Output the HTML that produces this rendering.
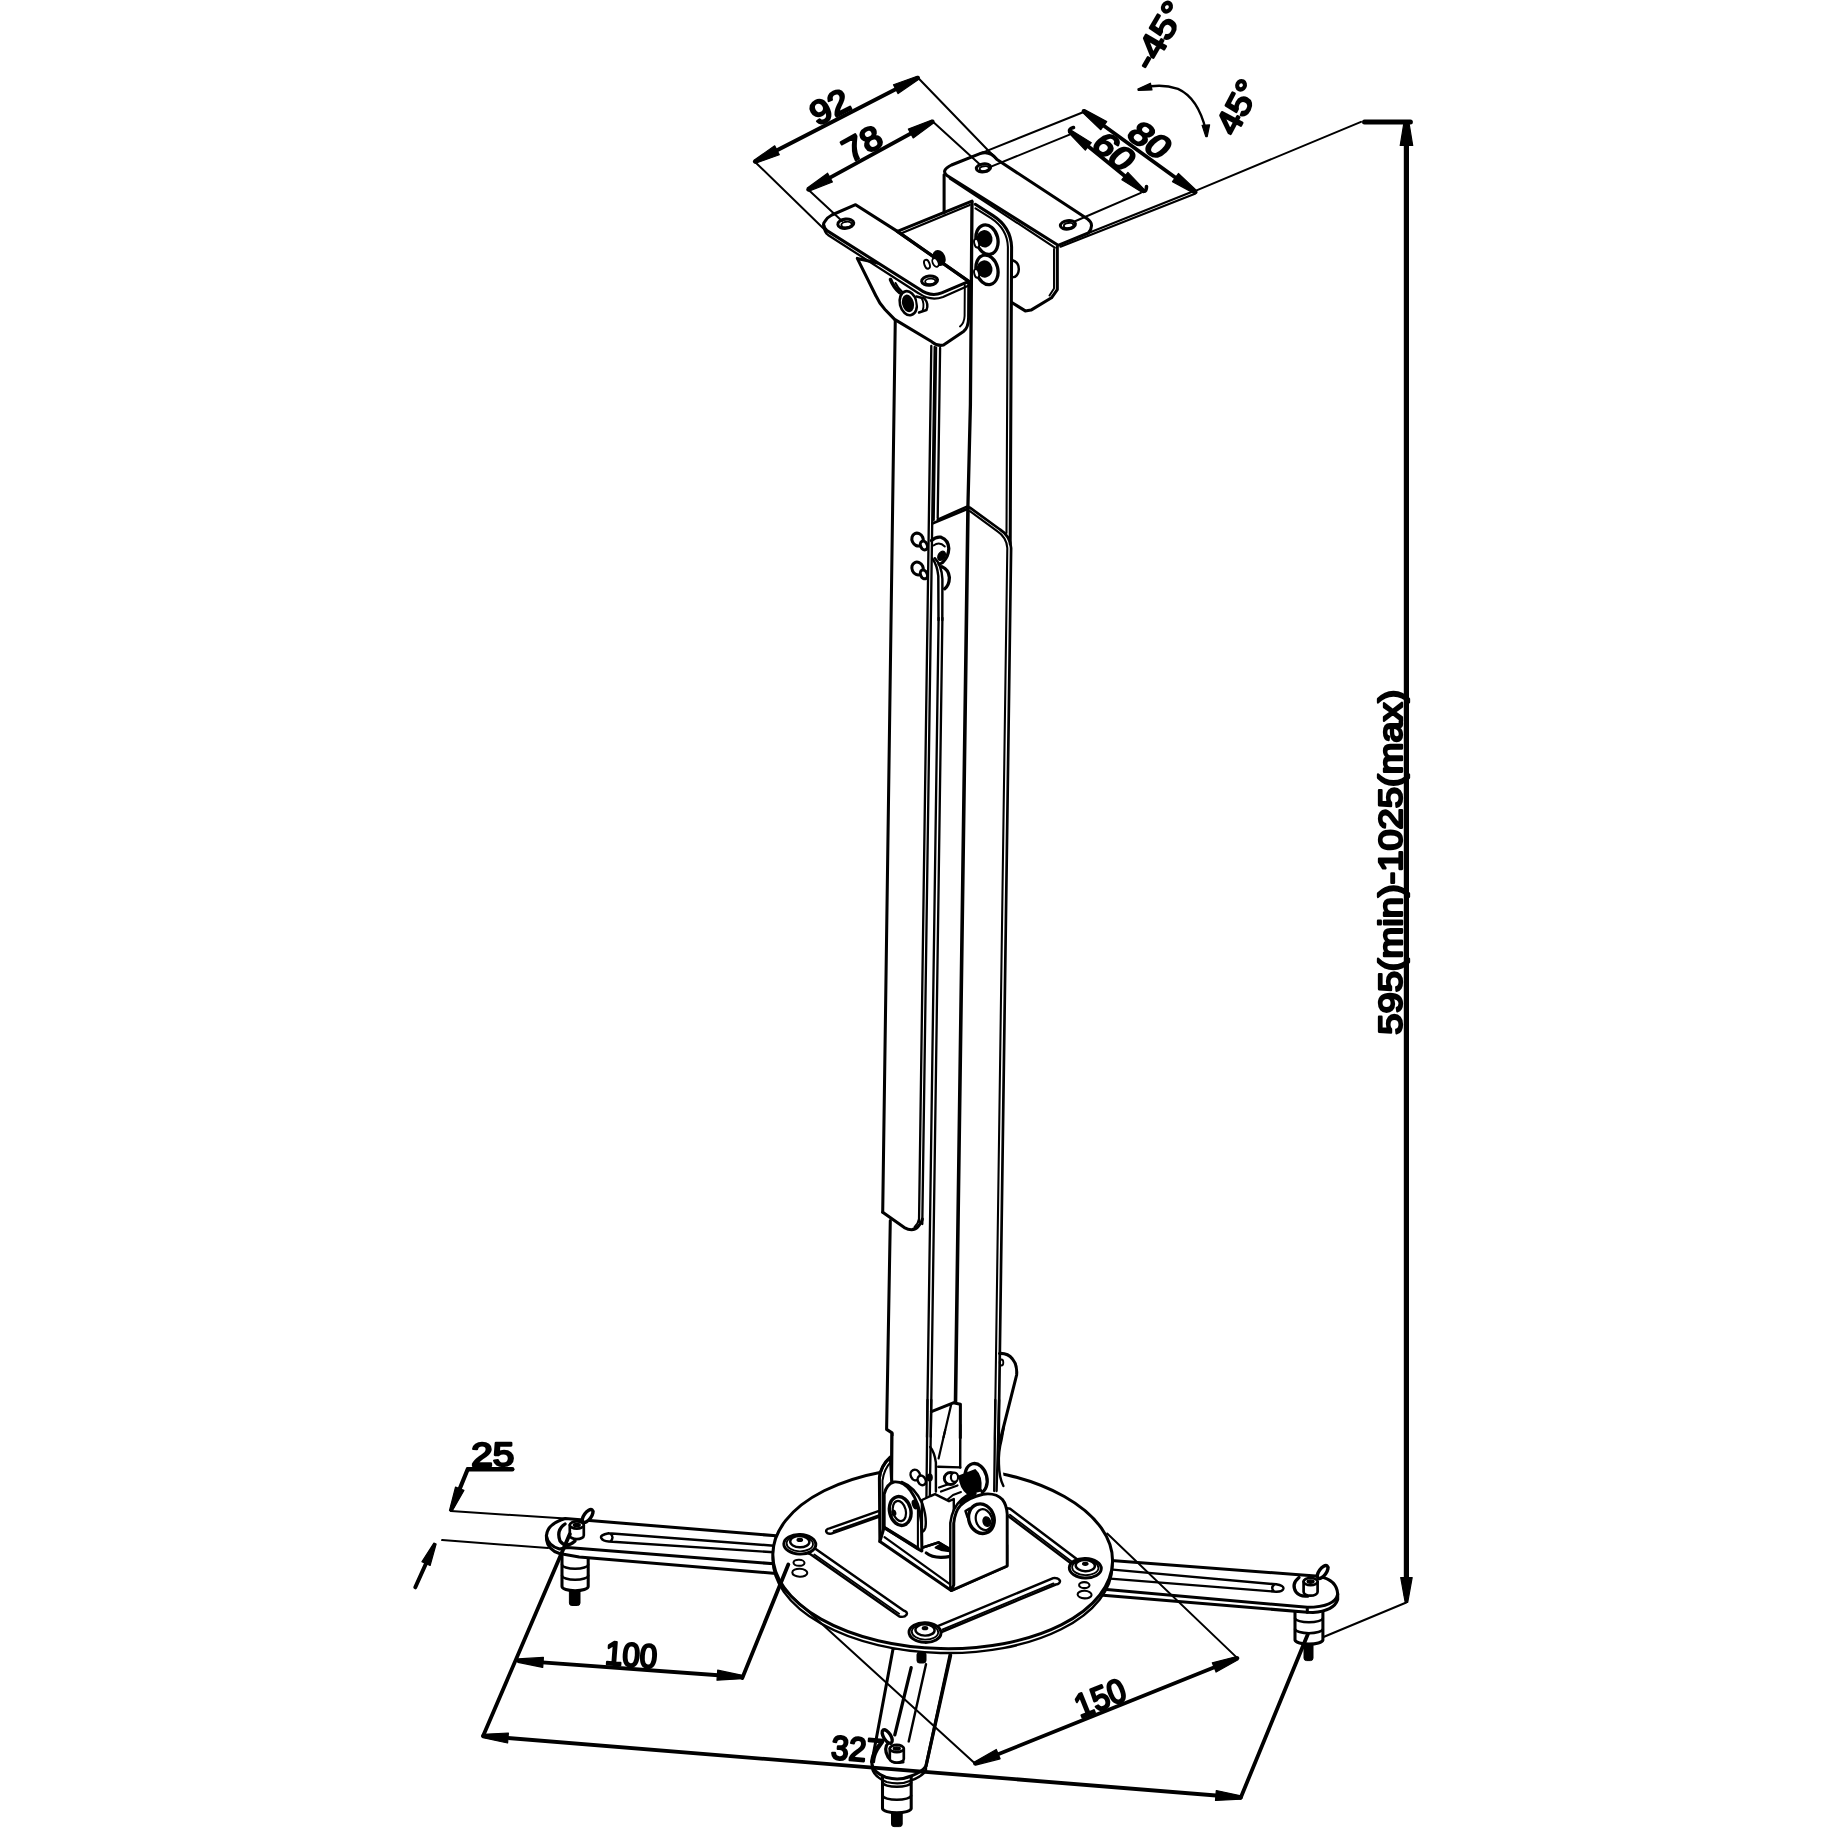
<!DOCTYPE html>
<html lang="en">
<head>
<meta charset="utf-8">
<title>Projector ceiling mount - dimension drawing</title>
<style>
html,body{margin:0;padding:0;background:#fff;}
body{width:1829px;height:1829px;overflow:hidden;}
svg{display:block;will-change:transform;}
svg text{font-family:"Liberation Sans",sans-serif;fill:#000;stroke:#000;}
</style>
</head>
<body>
<svg width="1829" height="1829" viewBox="0 0 1829 1829">
<rect x="0" y="0" width="1829" height="1829" fill="#fff"/>
<g stroke="#000" stroke-linejoin="round" stroke-linecap="round">
<g id="base">
<rect x="569.4" y="1586.6" width="10.6" height="18.9" rx="2.5" fill="#000" stroke-width="1"/>
<path d="M562.0,1552.0 L562.0,1586.6 A13.1,4.2 0 0 0 588.2,1586.6 L588.2,1552.0 Z" stroke-width="3.05" fill="#fff" />
<path d="M562.0,1564.5 A13.1,4.2 0 0 0 588.2,1564.5" stroke-width="2.44" fill="none" />
<path d="M562.0,1575.5 A13.1,4.2 0 0 0 588.2,1575.5" stroke-width="2.44" fill="none" />
<path d="M565.3,1518.5 L776,1535.8 L776,1573.5 L579.2,1557.1 L559.5,1553.5 Q548,1550 546.6,1540 L546.4,1535.8 Q547,1524 565.3,1518.5 Z" stroke-width="3.05" fill="#fff" />
<path d="M546.4,1535.8 Q548,1546 559.5,1549 L567.7,1547.6 L774,1563.8" stroke-width="3.05" fill="none" />
<path d="M608.7,1533.3 L774,1545.7 M608.7,1541.5 L774,1552.3 M608.7,1533.3 Q599.5,1535 601.3,1538.2 Q603,1541.3 608.7,1541.5 M610.5,1533.6 Q614.5,1537.5 610.5,1541.5" stroke-width="2.44" fill="none" />
<path d="M565,1524 Q556,1530 560,1541 Q566,1549 575,1541" stroke-width="3.3" fill="none" />
<ellipse cx="587.6" cy="1516.0" rx="3.6" ry="7.6" stroke-width="3.4" fill="#fff" transform="rotate(36 587.6 1516.0)"/>
<path d="M569.8,1525.0 L569.8,1535.5 A7,3.6 0 0 0 583.8,1535.5 L583.8,1525.0 Z" stroke-width="2.68" fill="#fff" />
<ellipse cx="576.8" cy="1525.0" rx="7.0" ry="3.6" stroke-width="2.68" fill="#fff"/>
<ellipse cx="576.8" cy="1525.0" rx="3.4" ry="1.6" stroke-width="1.46" fill="#000"/>
<rect x="1304.0" y="1640.0" width="9.0" height="20.6" rx="2.5" fill="#000" stroke-width="1"/>
<path d="M1295.0,1606.0 L1295.0,1640.0 A14.0,4.5 0 0 0 1322.9,1640.0 L1322.9,1606.0 Z" stroke-width="3.05" fill="#fff" />
<path d="M1295.0,1618.2 A14.0,4.5 0 0 0 1322.9,1618.2" stroke-width="2.44" fill="none" />
<path d="M1295.0,1629.1 A14.0,4.5 0 0 0 1322.9,1629.1" stroke-width="2.44" fill="none" />
<path d="M1108,1560.2 L1295.8,1574.5 L1318.8,1576.3 Q1337,1580 1337.7,1594.2 L1337.7,1599.5 Q1334,1611 1313,1612.5 L1307.3,1612.2 L1100,1595 Z" stroke-width="3.05" fill="#fff" />
<path d="M1104,1589.2 L1307.3,1607.3 Q1335,1607 1337.7,1594.2 M1307.3,1607.3 L1307.3,1612.2" stroke-width="3.05" fill="none" />
<path d="M1110,1569.4 L1276.2,1584.3 M1107,1578.4 L1276.2,1591.7 M1276.2,1584.3 Q1284,1585.5 1283.4,1588.6 Q1282.5,1591.8 1276.2,1591.7 M1274.5,1584.2 Q1270,1588 1274.3,1591.6" stroke-width="2.44" fill="none" />
<path d="M1299,1577.5 Q1291,1584 1296,1592 Q1300,1597 1308,1596" stroke-width="3.3" fill="none" />
<ellipse cx="1322.6" cy="1572.0" rx="3.6" ry="7.6" stroke-width="3.4" fill="#fff" transform="rotate(36 1322.6 1572.0)"/>
<path d="M1303.6,1581.6 L1303.6,1592.1 A7,3.6 0 0 0 1317.6,1592.1 L1317.6,1581.6 Z" stroke-width="2.68" fill="#fff" />
<ellipse cx="1310.6" cy="1581.6" rx="7.0" ry="3.6" stroke-width="2.68" fill="#fff"/>
<ellipse cx="1310.6" cy="1581.6" rx="3.4" ry="1.6" stroke-width="1.46" fill="#000"/>
<rect x="891.5" y="1808.6" width="10.7" height="18.0" rx="2.5" fill="#000" stroke-width="1"/>
<path d="M882.5,1768.0 L882.5,1808.6 A14.4,4.6 0 0 0 911.2,1808.6 L911.2,1768.0 Z" stroke-width="3.05" fill="#fff" />
<path d="M882.5,1782.6 A14.4,4.6 0 0 0 911.2,1782.6" stroke-width="2.44" fill="none" />
<path d="M882.5,1795.6 A14.4,4.6 0 0 0 911.2,1795.6" stroke-width="2.44" fill="none" />
<path d="M893.2,1648 L871.8,1762.7 Q872,1772 886.6,1777.6 Q900,1781 911.2,1776 Q922,1772 926,1766 L950.6,1652 Z" stroke-width="3.05" fill="#fff" />
<line x1="950.6" y1="1655.3" x2="926.0" y2="1766.0" stroke-width="3.3" stroke-linecap="round"/>
<path d="M871.8,1767 Q873,1776.5 886.6,1782 Q900,1785.5 911.2,1780.5 Q922,1776.5 926,1770.5 L926,1766" stroke-width="2.32" fill="none" />
<line x1="911.2" y1="1667.6" x2="894.8" y2="1734.8" stroke-width="3.3" stroke-linecap="round"/>
<line x1="926.0" y1="1664.3" x2="908.7" y2="1741.4" stroke-width="2.44" stroke-linecap="round"/>
<rect x="917" y="1652" width="9" height="11" rx="2.5" fill="#000" stroke-width="1"/>
<path d="M889,1742 Q883,1748 888,1757 Q893,1764 903,1762" stroke-width="3.17" fill="none" />
<ellipse cx="887.2" cy="1736.5" rx="3.6" ry="7.6" stroke-width="3.4" fill="#fff" transform="rotate(-32 887.2 1736.5)"/>
<path d="M889.8,1748.5 L889.8,1759.0 A7,3.6 0 0 0 903.8,1759.0 L903.8,1748.5 Z" stroke-width="2.68" fill="#fff" />
<ellipse cx="896.8" cy="1748.5" rx="7.0" ry="3.6" stroke-width="2.68" fill="#fff"/>
<ellipse cx="896.8" cy="1748.5" rx="3.4" ry="1.6" stroke-width="1.46" fill="#000"/>
<g transform="rotate(1.37 942.7 1557.8)">
<ellipse cx="942.7" cy="1562.2" rx="169.9" ry="90.8" stroke-width="2.44" fill="#fff"/>
<ellipse cx="942.7" cy="1557.8" rx="169.9" ry="90.8" stroke-width="3.05" fill="#fff"/>
</g>
<path d="M831.4,1533.6 L880.9,1516.1 A2.8,1.7 0 0 0 879.1,1510.9 L829.6,1528.4 A2.8,1.7 0 0 0 831.4,1533.6 Z" stroke-width="2.44" fill="#fff" />
<line x1="833.6" y1="1531.2" x2="879.1" y2="1515.1" stroke-width="1.83" stroke-linecap="round"/>
<path d="M810.1,1554.0 L899.4,1616.5 A3.7,2.2 0 0 0 903.6,1610.5 L814.3,1548.0 A3.7,2.2 0 0 0 810.1,1554.0 Z" stroke-width="2.44" fill="#fff" />
<line x1="814.3" y1="1554.5" x2="899.1" y2="1613.8" stroke-width="1.83" stroke-linecap="round"/>
<path d="M940.3,1632.5 L1055.8,1584.5 A3.5,2.1 0 0 0 1053.2,1578.1 L937.7,1626.1 A3.5,2.1 0 0 0 940.3,1632.5 Z" stroke-width="2.44" fill="#fff" />
<line x1="942.8" y1="1629.4" x2="1053.5" y2="1583.4" stroke-width="1.83" stroke-linecap="round"/>
<path d="M1005.9,1514.3 L1072.5,1564.6 A3.5,2.1 0 0 0 1076.7,1559.0 L1010.1,1508.7 A3.5,2.1 0 0 0 1005.9,1514.3 Z" stroke-width="2.44" fill="#fff" />
<line x1="1009.9" y1="1514.8" x2="1072.3" y2="1562.0" stroke-width="1.83" stroke-linecap="round"/>
<ellipse cx="799.8" cy="1544.3" rx="16.0" ry="9.8" stroke-width="2.93" fill="#fff" transform="rotate(2 799.8 1544.3)"/>
<ellipse cx="799.8" cy="1543.7" rx="13.2" ry="7.6" stroke-width="1.83" fill="#fff" transform="rotate(2 799.8 1543.7)"/>
<ellipse cx="799.8" cy="1541.7" rx="9.6" ry="5.6" stroke-width="2.44" fill="#fff" transform="rotate(2 799.8 1541.7)"/>
<ellipse cx="799.8" cy="1539.9" rx="2.6" ry="1.4" stroke-width="1.46" fill="#000"/>
<ellipse cx="1085.3" cy="1568.2" rx="16.0" ry="9.8" stroke-width="2.93" fill="#fff" transform="rotate(2 1085.3 1568.2)"/>
<ellipse cx="1085.3" cy="1567.6" rx="13.2" ry="7.6" stroke-width="1.83" fill="#fff" transform="rotate(2 1085.3 1567.6)"/>
<ellipse cx="1085.3" cy="1565.6" rx="9.6" ry="5.6" stroke-width="2.44" fill="#fff" transform="rotate(2 1085.3 1565.6)"/>
<ellipse cx="1085.3" cy="1563.8" rx="2.6" ry="1.4" stroke-width="1.46" fill="#000"/>
<ellipse cx="925.0" cy="1632.6" rx="16.0" ry="9.8" stroke-width="2.93" fill="#fff" transform="rotate(2 925.0 1632.6)"/>
<ellipse cx="925.0" cy="1632.0" rx="13.2" ry="7.6" stroke-width="1.83" fill="#fff" transform="rotate(2 925.0 1632.0)"/>
<ellipse cx="925.0" cy="1630.0" rx="9.6" ry="5.6" stroke-width="2.44" fill="#fff" transform="rotate(2 925.0 1630.0)"/>
<ellipse cx="925.0" cy="1628.2" rx="2.6" ry="1.4" stroke-width="1.46" fill="#000"/>
<ellipse cx="799.0" cy="1562.8" rx="5.5" ry="3.0" stroke-width="2.07" fill="none" transform="rotate(2 799.0 1562.8)"/>
<ellipse cx="799.8" cy="1572.7" rx="7.5" ry="4.0" stroke-width="2.07" fill="none" transform="rotate(2 799.8 1572.7)"/>
<ellipse cx="1084.3" cy="1585.1" rx="5.2" ry="3.0" stroke-width="2.07" fill="none" transform="rotate(2 1084.3 1585.1)"/>
<ellipse cx="1084.6" cy="1594.6" rx="7.0" ry="3.8" stroke-width="2.07" fill="none" transform="rotate(2 1084.6 1594.6)"/>
</g>
<g id="pole">
<line x1="931.3" y1="346.0" x2="919.0" y2="1222.0" stroke-width="2.32" stroke-linecap="round"/>
<line x1="934.7" y1="347.0" x2="922.3" y2="1224.0" stroke-width="2.32" stroke-linecap="round"/>
<line x1="940.1" y1="348.0" x2="937.7" y2="518.0" stroke-width="2.32" stroke-linecap="round"/>
<line x1="936.2" y1="347.5" x2="933.8" y2="520.0" stroke-width="2.07" stroke-linecap="round"/>
<path d="M932.3,523.6 L966.6,509.2" stroke-width="2.68" fill="none" />
<path d="M937.7,519.6 L966.4,506.8" stroke-width="2.44" fill="none" />
<path d="M969.9,507.6 L1000,529.5 Q1010.3,536 1011.1,548 L998.2,1470" stroke-width="2.68" fill="none" />
<path d="M969.9,511.2 L997.5,531.3 Q1006.7,537.5 1007.3,548 L994.4,1470" stroke-width="2.07" fill="none" />
<line x1="968.0" y1="507.0" x2="955.5" y2="1402.0" stroke-width="3.6" stroke-linecap="round"/>
<line x1="938.6" y1="618.0" x2="926.4" y2="1478.0" stroke-width="2.32" stroke-linecap="round"/>
<line x1="942.4" y1="618.0" x2="930.2" y2="1478.0" stroke-width="2.32" stroke-linecap="round"/>
<ellipse cx="917.6" cy="539.6" rx="5.6" ry="6.6" stroke-width="3.05" fill="#fff" transform="rotate(-25 917.6 539.6)"/>
<ellipse cx="923.9" cy="545.5" rx="3.3" ry="4.6" stroke-width="3.05" fill="#fff" transform="rotate(-25 923.9 545.5)"/>
<ellipse cx="917.6" cy="568.5" rx="5.6" ry="6.6" stroke-width="3.05" fill="#fff" transform="rotate(-25 917.6 568.5)"/>
<ellipse cx="923.9" cy="574.4" rx="3.3" ry="4.6" stroke-width="3.05" fill="#fff" transform="rotate(-25 923.9 574.4)"/>
<path d="M931.5,540.5 Q936,536.3 941,537.2 Q948.5,540 948.8,548.5 Q948.5,557 942.5,562.5 Q940.5,564 939,564" stroke-width="3.3" fill="none" />
<path d="M933.5,545.5 Q939.5,541 944.8,546.5" stroke-width="1.95" fill="none" />
<ellipse cx="941.6" cy="555.8" rx="3.3" ry="4.9" stroke-width="1.46" fill="#000" transform="rotate(30 941.6 555.8)"/>
<path d="M932.3,558.5 Q937.2,565 938.3,576 L938.5,620" stroke-width="2.44" fill="none" />
<path d="M934.8,558.2 Q941.6,565 942.4,579 L942.3,620" stroke-width="2.44" fill="none" />
<path d="M942,566.8 Q948.6,569.5 949.4,577.5 Q949.2,585.5 944.6,588.8" stroke-width="3.3" fill="none" />
<path d="M882.7,1212.3 L904.3,1227.6 Q913.5,1232.5 918.5,1226 Q921.8,1223 922.4,1219" stroke-width="3.05" fill="none" />
<path d="M919.0,1219 Q918,1224 914.5,1227" stroke-width="1.95" fill="none" />
<path d="M890.3,1220.5 L886.6,1429.4 L892.0,1432.9 L891.5,1478.0" stroke-width="3.05" fill="none" />
<path d="M931.4,1411.7 L953.3,1402.8 L960.4,1404.3 L960.2,1478.0" stroke-width="3.05" fill="none" />
<path d="M951.2,1404.5 L939.4,1455.0" stroke-width="2.2" fill="none" />
<path d="M999.5,1353.4 Q1008,1353 1012.5,1359 Q1017.5,1365 1016.6,1375 L1000.6,1438.7 Q996.5,1452 997.3,1466" stroke-width="3.05" fill="none" />
<ellipse cx="1001.5" cy="1362.5" rx="1.8" ry="3.0" stroke-width="1.83" fill="none"/>
</g>
<g id="polefoot">
<path d="M891.7,1436 L891.7,1490 L1005.4,1490 L998.6,1440 Z" stroke-width="0" fill="#fff" stroke="none"/>
<line x1="892.0" y1="1433.5" x2="891.6" y2="1483.0" stroke-width="3.05" stroke-linecap="round"/>
<line x1="927.5" y1="1400.0" x2="926.0" y2="1536.0" stroke-width="2.32" stroke-linecap="round"/>
<line x1="931.3" y1="1400.0" x2="929.2" y2="1536.0" stroke-width="2.32" stroke-linecap="round"/>
<path d="M930.2,1447 Q934.5,1452 935.9,1462.7 L935.9,1491.6" stroke-width="2.44" fill="none" />
<line x1="945.2" y1="1430.0" x2="938.6" y2="1458.5" stroke-width="2.2" stroke-linecap="round"/>
<line x1="938.2" y1="1466.8" x2="960.2" y2="1467.4" stroke-width="2.44" stroke-linecap="round"/>
<line x1="960.3" y1="1425.0" x2="960.2" y2="1467.5" stroke-width="2.44" stroke-linecap="round"/>
<line x1="995.3" y1="1400.0" x2="994.2" y2="1491.0" stroke-width="2.32" stroke-linecap="round"/>
<line x1="999.1" y1="1400.0" x2="996.6" y2="1491.0" stroke-width="2.32" stroke-linecap="round"/>
<path d="M1003.6,1428 L1001.5,1440 Q998.3,1452 998.9,1464 Q999.2,1478 1003.4,1486" stroke-width="2.44" fill="none" />
<ellipse cx="915.3" cy="1475.0" rx="4.6" ry="5.4" stroke-width="2.44" fill="#fff" transform="rotate(-25 915.3 1475.0)"/>
<ellipse cx="921.7" cy="1480.4" rx="3.8" ry="5.0" stroke-width="2.44" fill="#fff" transform="rotate(-25 921.7 1480.4)"/>
<ellipse cx="929.7" cy="1477.6" rx="2.4" ry="3.4" stroke-width="1.46" fill="#000"/>
</g>
<g id="bracket">
<path d="M879.9,1541.5 L879.4,1478 Q880.5,1466 890.4,1457 L891.7,1482 L884.2,1494 L884.2,1536 Z" stroke-width="3.05" fill="#fff" />
<path d="M879.4,1478 Q880.5,1466 890.4,1457.5" stroke-width="2.93" fill="none" />
<path d="M882.6,1534 L882.5,1480.5 Q884,1469 891.2,1461.5" stroke-width="1.95" fill="none" />
<path d="M879.9,1541.5 L951.2,1590.5 L1006.7,1566 L1006.7,1545 L921,1520 L884.2,1527 Z" stroke-width="3.05" fill="#fff" />
<path d="M884.5,1537.2 L949.5,1583.8" stroke-width="2.2" fill="none" />
<path d="M921.9,1547.8 L921.9,1500 L930.6,1496 L935,1494.2 L949,1501.2 L953.8,1499 L953.8,1551 L938.5,1542.4 Z" stroke-width="2.44" fill="#fff" />
<path d="M922.7,1547.6 L938.5,1542.4 L950.7,1550.2" stroke-width="2.68" fill="none" />
<path d="M926.2,1552.9 Q934,1559.5 950.7,1556.4" stroke-width="3.17" fill="none" />
<path d="M935.5,1547.6 L939.4,1545 L949.5,1551.3 L941,1550 Z" stroke-width="1.83" fill="#000" />
<ellipse cx="976.1" cy="1478.5" rx="10.8" ry="15.2" stroke-width="3.3" fill="#fff" transform="rotate(-14 976.1 1478.5)"/>
<path d="M959.5,1476 L975,1470 Q982,1476 980.5,1490 L968,1494 Q960,1488 959.5,1476 Z" stroke-width="1.83" fill="#000" />
<path d="M939,1487.5 L956,1481.5 M941,1491.5 L957.5,1485.5" stroke-width="2.2" fill="none" />
<ellipse cx="950.5" cy="1478.5" rx="6.2" ry="6.0" stroke-width="2.93" fill="#fff"/>
<ellipse cx="954.5" cy="1477.3" rx="3.6" ry="4.6" stroke-width="2.2" fill="#fff"/>
<path d="M947,1500 L953,1495 L961,1492" stroke-width="1.95" fill="none" />
<path d="M884.2,1527.5 L884.2,1494.2 Q886.5,1484 893.9,1482 Q903,1481 910.5,1490.7 Q919.5,1503 921.4,1522 L921.9,1551.1 L917.9,1549 Z" stroke-width="2.93" fill="#fff" />
<path d="M884.2,1527.5 L917.9,1548.2" stroke-width="3.3" fill="none" />
<path d="M917.9,1505 L917.9,1549" stroke-width="2.07" fill="none" />
<path d="M901.7,1482 Q915,1487 922.5,1504 Q927,1518 925.4,1527.5 Q924.5,1531 922,1532" stroke-width="2.44" fill="none" />
<ellipse cx="900.2" cy="1511.0" rx="10.6" ry="14.6" stroke-width="3.4" fill="#fff" transform="rotate(-14 900.2 1511.0)"/>
<ellipse cx="899.4" cy="1511.0" rx="6.4" ry="10.2" stroke-width="2.2" fill="#fff" transform="rotate(-14 899.4 1511.0)"/>
<ellipse cx="893.8" cy="1512.8" rx="1.8" ry="2.6" stroke-width="1.46" fill="#000" transform="rotate(-14 893.8 1512.8)"/>
<ellipse cx="915.0" cy="1504.5" rx="2.2" ry="4.2" stroke-width="1.71" fill="#000" transform="rotate(-20 915.0 1504.5)"/>
<path d="M950.3,1589.6 L950.3,1523 Q952,1508 962,1499 Q970,1492.5 981,1490.3 L983.1,1494.2 L953.8,1523 L953.8,1586 Z" stroke-width="2.44" fill="#fff" />
<path d="M953.8,1584.8 L953.8,1523.1 Q955,1511.5 960.4,1505.6 Q968,1497.5 983.1,1494.2 Q996,1492.5 1002.4,1499.5 Q1006.7,1505 1007.2,1514 L1007.2,1566 L951.2,1590.5 Z" stroke-width="2.93" fill="#fff" />
<path d="M961,1503 Q965.5,1497.5 975,1493.5" stroke-width="3.4" fill="none" />
<ellipse cx="981.4" cy="1518.7" rx="12.6" ry="15.0" stroke-width="3.4" fill="#fff" transform="rotate(-18 981.4 1518.7)"/>
<ellipse cx="984.0" cy="1519.6" rx="8.0" ry="10.6" stroke-width="2.2" fill="#fff" transform="rotate(-18 984.0 1519.6)"/>
<ellipse cx="986.8" cy="1521.6" rx="3.6" ry="4.8" stroke-width="1.46" fill="#000" transform="rotate(-18 986.8 1521.6)"/>
<path d="M969.5,1508.5 L965.5,1511 L967.5,1517" stroke-width="2.44" fill="none" />
</g>
<g id="top">
<path d="M944.1,174.8 L944.1,213.0" stroke-width="3.05" fill="none" />
<path d="M1057.3,247.0 L1057.3,289.6 L1051.5,297.8 L1031.0,310.1 L1025.3,310.9 L1012.2,302.7" stroke-width="3.05" fill="none" />
<path d="M1054.0,249.0 L1054.0,288.5 L1049.5,295.5" stroke-width="1.95" fill="none" />
<path d="M951.5,165 L980,153.6 Q989.5,150 997,159.5 L1087.6,219.1 Q1095,224.5 1088.4,233 L1058.1,245.3 L947,175.5 Q940.5,170.5 951.5,165 Z" stroke-width="3.05" fill="#fff" />
<path d="M949.8,178.6 L1054.8,247.6" stroke-width="2.07" fill="none" />
<ellipse cx="983.5" cy="167.9" rx="7.2" ry="4.0" stroke-width="3.05" fill="none" transform="rotate(-8 983.5 167.9)"/>
<ellipse cx="984.2" cy="168.6" rx="4.6" ry="2.4" stroke-width="1.83" fill="none" transform="rotate(-8 984.2 168.6)"/>
<ellipse cx="1067.9" cy="224.8" rx="7.6" ry="4.2" stroke-width="3.05" fill="none" transform="rotate(-8 1067.9 224.8)"/>
<ellipse cx="1068.6" cy="225.5" rx="4.8" ry="2.5" stroke-width="1.83" fill="none" transform="rotate(-8 1068.6 225.5)"/>
<line x1="1088.4" y1="233.0" x2="1193.4" y2="191.2" stroke-width="2.07" stroke-linecap="round"/>
<line x1="1060.5" y1="246.8" x2="1195.0" y2="193.8" stroke-width="2.07" stroke-linecap="round"/>
<path d="M897.4,231.4 L972.0,201.2" stroke-width="3.05" fill="none" />
<path d="M900.8,233.4 L969.8,204.9" stroke-width="2.2" fill="none" />
<path d="M972.0,202.0 L970.4,405.0 L967.9,507.0" stroke-width="3.3" fill="none" />
<line x1="895.3" y1="318.0" x2="882.7" y2="1212.3" stroke-width="3.05" stroke-linecap="round"/>
<path d="M857.3,258.4 L876.1,296.2 Q879,303 885,309.5 L894.6,319.4 L931.9,341.8 Q937.5,346.5 943.5,345 L963.5,331.5 Q968.3,328 968.6,318 L968.8,283 Z" stroke-width="3.05" fill="#fff" />
<path d="M964.8,285 L964.6,316 Q964.3,323 960,326.5" stroke-width="1.95" fill="none" />
<path d="M890.5,279.5 Q893.5,287 899.5,292.5" stroke-width="3.6" fill="none" />
<path d="M895.5,283 Q898,288.5 902.5,292" stroke-width="1.95" fill="none" />
<ellipse cx="908.3" cy="303.2" rx="8.4" ry="12.2" stroke-width="2.68" fill="#fff" transform="rotate(-14 908.3 303.2)"/>
<ellipse cx="908.0" cy="303.4" rx="5.0" ry="8.0" stroke-width="1.83" fill="#000" transform="rotate(-14 908.0 303.4)"/>
<path d="M916.5,296.5 L924.5,298.5 Q929,304 926.5,310 L919,312.5" stroke-width="2.44" fill="#fff" />
<path d="M921.5,298 Q925,304 922.5,311" stroke-width="1.83" fill="none" />
<path d="M831.8,215 L855.6,204.7 L897.4,231.4 L968.8,281.4 L941.7,292.9 Q930.5,297.5 918.8,288.8 L826.9,230.6 Q821.5,225 824.8,221.5 Q827,217.5 831.8,215 Z" stroke-width="3.05" fill="#fff" />
<path d="M824.3,226 Q823.5,231.5 828,235 L918.5,293.2 Q930.5,301.5 943,297 L968.8,285.5" stroke-width="2.2" fill="none" />
<line x1="897.4" y1="231.4" x2="968.8" y2="281.4" stroke-width="3.3" stroke-linecap="round"/>
<ellipse cx="845.8" cy="223.7" rx="8.0" ry="4.6" stroke-width="3.05" fill="none" transform="rotate(-6 845.8 223.7)"/>
<ellipse cx="846.5" cy="224.5" rx="5.2" ry="2.8" stroke-width="1.83" fill="none" transform="rotate(-6 846.5 224.5)"/>
<ellipse cx="929.6" cy="280.6" rx="8.0" ry="4.6" stroke-width="3.05" fill="none" transform="rotate(-6 929.6 280.6)"/>
<ellipse cx="930.3" cy="281.4" rx="5.2" ry="2.8" stroke-width="1.83" fill="none" transform="rotate(-6 930.3 281.4)"/>
<ellipse cx="927.0" cy="264.2" rx="2.6" ry="4.6" stroke-width="1.95" fill="none" transform="rotate(-20 927.0 264.2)"/>
<ellipse cx="939.0" cy="258.0" rx="5.4" ry="7.4" stroke-width="1.83" fill="#000" transform="rotate(-25 939.0 258.0)"/>
<ellipse cx="935.5" cy="262.5" rx="2.8" ry="4.6" stroke-width="1.83" fill="#fff" transform="rotate(-25 935.5 262.5)"/>
<path d="M975.3,204.3 L993,215.6 Q1010.8,227 1011.6,247 L1010.2,544" stroke-width="3.05" fill="none" />
<path d="M975.5,208.3 L991,218.2 Q1007.3,229 1007.9,247 L1006.5,533" stroke-width="2.07" fill="none" />
<ellipse cx="987.0" cy="239.6" rx="10.8" ry="15.0" stroke-width="3.3" fill="#fff" transform="rotate(-14 987.0 239.6)"/>
<ellipse cx="984.6" cy="238.8" rx="7.0" ry="7.8" stroke-width="1.83" fill="#000" transform="rotate(-10 984.6 238.8)"/>
<ellipse cx="976.6" cy="243.2" rx="2.3" ry="4.4" stroke-width="1.95" fill="#fff" transform="rotate(-14 976.6 243.2)"/>
<ellipse cx="987.0" cy="269.8" rx="10.8" ry="15.0" stroke-width="3.3" fill="#fff" transform="rotate(-14 987.0 269.8)"/>
<ellipse cx="984.6" cy="269.0" rx="7.0" ry="7.8" stroke-width="1.83" fill="#000" transform="rotate(-10 984.6 269.0)"/>
<ellipse cx="976.6" cy="273.4" rx="2.3" ry="4.4" stroke-width="1.95" fill="#fff" transform="rotate(-14 976.6 273.4)"/>
<path d="M1012.0,260 Q1019,262 1018.8,269.5 Q1018.4,277 1012.0,277.4" stroke-width="2.44" fill="none" />
</g>
<g id="dims">
<line x1="754.8" y1="161.7" x2="825.0" y2="230.0" stroke-width="2.0" stroke-linecap="round"/>
<line x1="808.1" y1="189.6" x2="842.0" y2="221.0" stroke-width="2.0" stroke-linecap="round"/>
<line x1="918.0" y1="77.7" x2="995.0" y2="157.5" stroke-width="2.0" stroke-linecap="round"/>
<line x1="932.7" y1="121.5" x2="980.5" y2="165.0" stroke-width="2.0" stroke-linecap="round"/>
<line x1="754.8" y1="161.7" x2="918.0" y2="77.7" stroke-width="3.8" stroke-linecap="round"/>
<path d="M754.0,160.2 L774.7,145.8 L779.3,154.7 L755.6,163.2 Z" fill="#000" stroke="#000" stroke-width="1.2" stroke-linejoin="round"/>
<path d="M918.8,79.2 L898.1,93.6 L893.5,84.7 L917.2,76.2 Z" fill="#000" stroke="#000" stroke-width="1.2" stroke-linejoin="round"/>
<line x1="808.1" y1="189.6" x2="932.7" y2="121.5" stroke-width="3.8" stroke-linecap="round"/>
<path d="M807.3,188.1 L827.6,173.2 L832.4,182.0 L808.9,191.1 Z" fill="#000" stroke="#000" stroke-width="1.2" stroke-linejoin="round"/>
<path d="M933.5,123.0 L913.2,137.9 L908.4,129.1 L931.9,120.0 Z" fill="#000" stroke="#000" stroke-width="1.2" stroke-linejoin="round"/>
<text transform="translate(829.6 106.5) rotate(-27.2)" y="12.0" font-size="33.5" text-anchor="middle" stroke-width="2.3" textLength="40" lengthAdjust="spacingAndGlyphs">92</text>
<text transform="translate(862.0 143.2) rotate(-28.7)" y="12.0" font-size="33.5" text-anchor="middle" stroke-width="2.3" textLength="40" lengthAdjust="spacingAndGlyphs">78</text>
<line x1="980.0" y1="153.6" x2="1084.3" y2="111.7" stroke-width="2.0" stroke-linecap="round"/>
<line x1="989.2" y1="167.4" x2="1069.6" y2="134.6" stroke-width="2.0" stroke-linecap="round"/>
<line x1="1074.5" y1="221.5" x2="1140.9" y2="192.8" stroke-width="2.0" stroke-linecap="round"/>
<line x1="1083.5" y1="111.0" x2="1195.7" y2="192.2" stroke-width="3.8" stroke-linecap="round"/>
<path d="M1084.5,109.6 L1106.7,121.6 L1100.8,129.7 L1082.5,112.4 Z" fill="#000" stroke="#000" stroke-width="1.2" stroke-linejoin="round"/>
<path d="M1194.7,193.6 L1172.5,181.6 L1178.4,173.5 L1196.7,190.8 Z" fill="#000" stroke="#000" stroke-width="1.2" stroke-linejoin="round"/>
<line x1="1069.7" y1="131.2" x2="1143.5" y2="191.2" stroke-width="3.8" stroke-linecap="round"/>
<path d="M1070.8,129.9 L1091.3,142.7 L1085.3,150.0 L1068.6,132.5 Z" fill="#000" stroke="#000" stroke-width="1.2" stroke-linejoin="round"/>
<path d="M1142.4,192.5 L1121.9,179.7 L1127.9,172.4 L1144.6,189.9 Z" fill="#000" stroke="#000" stroke-width="1.2" stroke-linejoin="round"/>
<path d="M1069.7,131.2 Q1068.5,129 1073.5,127.5 M1143.5,191.2 Q1146.5,191.5 1146.5,186.5" stroke-width="3.6" fill="none" />
<text transform="translate(1150.4 139.8) rotate(35.9) skewX(-9)" y="12.0" font-size="33.5" text-anchor="middle" stroke-width="2.3" textLength="41.5" lengthAdjust="spacingAndGlyphs">80</text>
<text transform="translate(1114.6 151.3) rotate(39.1) skewX(-9)" y="12.0" font-size="33.5" text-anchor="middle" stroke-width="2.3" textLength="41.5" lengthAdjust="spacingAndGlyphs">60</text>
<path d="M1143,88.2 Q1160,83 1178,88.9 Q1198,98 1205.8,130" stroke-width="2.3" fill="none" />
<path d="M1137.9,89.1 L1150.4,83.2 L1152.0,90.0 L1138.3,90.5 Z" fill="#000" stroke="#000" stroke-width="1.2" stroke-linejoin="round"/>
<path d="M1205.8,136.6 L1202.1,125.3 L1209.6,124.9 L1207.2,136.6 Z" fill="#000" stroke="#000" stroke-width="1.2" stroke-linejoin="round"/>
<text transform="translate(1158.6 35.0) rotate(-60)" y="12.0" font-size="33.5" text-anchor="middle" stroke-width="2.3" textLength="72" lengthAdjust="spacingAndGlyphs">-45°</text>
<text transform="translate(1237.4 106.6) rotate(-62.5)" y="12.0" font-size="33.5" text-anchor="middle" stroke-width="2.3" textLength="56" lengthAdjust="spacingAndGlyphs">45°</text>
<line x1="1194.8" y1="191.1" x2="1361.0" y2="121.8" stroke-width="2.0" stroke-linecap="round"/>
<line x1="1364.5" y1="122.1" x2="1410.4" y2="122.1" stroke-width="5.0" stroke-linecap="round"/>
<line x1="1406.4" y1="130.0" x2="1406.4" y2="1596.0" stroke-width="5.2" stroke-linecap="butt"/>
<path d="M1409.2,124.0 L1412.7,145.5 L1400.2,145.5 L1403.7,124.0 Z" fill="#000" stroke="#000" stroke-width="1.2" stroke-linejoin="round"/>
<path d="M1405.2,1602.5 L1400.7,1577.5 L1412.2,1577.5 L1407.7,1602.5 Z" fill="#000" stroke="#000" stroke-width="1.2" stroke-linejoin="round"/>
<line x1="1406.3" y1="1602.5" x2="1323.5" y2="1637.0" stroke-width="2.0" stroke-linecap="round"/>
<text transform="translate(1389.6 862.2) rotate(-90)" y="12.0" font-size="33.5" text-anchor="middle" stroke-width="2.3" textLength="345" lengthAdjust="spacingAndGlyphs">595(min)-1025(max)</text>
<text transform="translate(492.7 1454.2) rotate(0)" y="12.0" font-size="33.5" text-anchor="middle" stroke-width="2.3" textLength="43" lengthAdjust="spacingAndGlyphs">25</text>
<line x1="468.5" y1="1469.2" x2="512.3" y2="1469.2" stroke-width="4.4" stroke-linecap="round"/>
<line x1="467.7" y1="1469.2" x2="452.5" y2="1506.5" stroke-width="4.2" stroke-linecap="round"/>
<path d="M449.5,1510.5 L455.5,1487.1 L463.9,1490.4 L451.9,1511.5 Z" fill="#000" stroke="#000" stroke-width="1.2" stroke-linejoin="round"/>
<line x1="450.7" y1="1511.0" x2="565.3" y2="1518.5" stroke-width="2.0" stroke-linecap="round"/>
<line x1="442.1" y1="1540.1" x2="548.1" y2="1548.0" stroke-width="2.0" stroke-linecap="round"/>
<line x1="415.3" y1="1587.3" x2="433.0" y2="1548.0" stroke-width="4.0" stroke-linecap="round"/>
<path d="M436.1,1544.1 L430.1,1565.5 L421.9,1561.8 L433.9,1543.1 Z" fill="#000" stroke="#000" stroke-width="1.2" stroke-linejoin="round"/>
<line x1="569.8" y1="1534.1" x2="483.1" y2="1736.0" stroke-width="3.8" stroke-linecap="round"/>
<line x1="788.3" y1="1564.5" x2="742.3" y2="1678.0" stroke-width="3.8" stroke-linecap="round"/>
<line x1="518.1" y1="1660.6" x2="742.3" y2="1677.0" stroke-width="3.8" stroke-linecap="round"/>
<path d="M518.2,1658.9 L543.4,1657.4 L542.7,1667.4 L518.0,1662.3 Z" fill="#000" stroke="#000" stroke-width="1.2" stroke-linejoin="round"/>
<path d="M742.2,1678.7 L717.0,1680.2 L717.7,1670.2 L742.4,1675.3 Z" fill="#000" stroke="#000" stroke-width="1.2" stroke-linejoin="round"/>
<text transform="translate(631.3 1654.3) rotate(4.2)" y="12.0" font-size="33.5" text-anchor="middle" stroke-width="2.3" textLength="52" lengthAdjust="spacingAndGlyphs">100</text>
<line x1="1307.8" y1="1634.2" x2="1240.8" y2="1797.5" stroke-width="3.8" stroke-linecap="round"/>
<line x1="483.1" y1="1736.0" x2="1240.8" y2="1797.5" stroke-width="3.8" stroke-linecap="round"/>
<path d="M483.2,1734.3 L508.4,1733.0 L507.6,1743.0 L483.0,1737.7 Z" fill="#000" stroke="#000" stroke-width="1.2" stroke-linejoin="round"/>
<path d="M1240.7,1799.2 L1215.5,1800.5 L1216.3,1790.5 L1240.9,1795.8 Z" fill="#000" stroke="#000" stroke-width="1.2" stroke-linejoin="round"/>
<text transform="translate(857.7 1748.8) rotate(4.6)" y="12.0" font-size="33.5" text-anchor="middle" stroke-width="2.3" textLength="52.5" lengthAdjust="spacingAndGlyphs">327</text>
<line x1="780.0" y1="1585.8" x2="975.0" y2="1763.5" stroke-width="2.0" stroke-linecap="round"/>
<line x1="1107.2" y1="1533.5" x2="1237.4" y2="1658.1" stroke-width="2.0" stroke-linecap="round"/>
<line x1="975.0" y1="1763.5" x2="1237.4" y2="1658.1" stroke-width="3.8" stroke-linecap="round"/>
<path d="M974.4,1761.9 L996.3,1749.5 L1000.1,1758.8 L975.6,1765.1 Z" fill="#000" stroke="#000" stroke-width="1.2" stroke-linejoin="round"/>
<path d="M1238.0,1659.7 L1216.1,1672.1 L1212.3,1662.8 L1236.8,1656.5 Z" fill="#000" stroke="#000" stroke-width="1.2" stroke-linejoin="round"/>
<text transform="translate(1100.0 1697.7) rotate(-21.9)" y="12.0" font-size="33.5" text-anchor="middle" stroke-width="2.3" textLength="52" lengthAdjust="spacingAndGlyphs">150</text>
</g>
</g>
</svg>
</body>
</html>
